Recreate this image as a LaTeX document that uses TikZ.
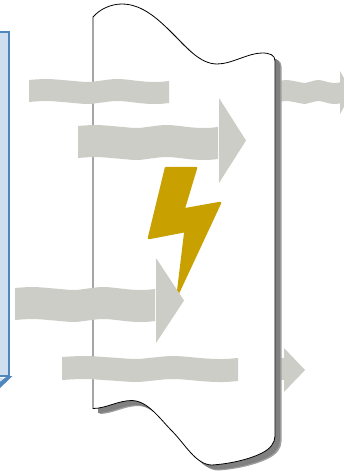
\documentclass[tikz,border=0pt]{standalone}
\definecolor{bandgray}{HTML}{CCCDC6}
\definecolor{boltgold}{HTML}{C8A000}
\definecolor{boxblue}{HTML}{4F86BE}
\definecolor{boxfill}{HTML}{CFDFEF}
\tikzset{
  x=1pt,y=-1pt,
  bandshape/.style={fill=bandgray,draw=none},
  boltshape/.style={fill=boltgold,draw=boltgold,line width=2.5pt,line join=round},
  bodyline/.style={draw=black,fill=white,line width=0.8pt,line join=round},
  shadowdark/.style={fill=black!50,draw=none},
  shadowlight/.style={fill=black!38,draw=none},
  boxframe/.style={draw=boxblue,fill=boxfill,line width=2pt}
}
% wavy band: x0, width, y of top edge, height
\newcommand{\wavyband}[4]{%
  \path[bandshape] plot[smooth,tension=0.6] coordinates {
    (#1,#3+1) ({#1+0.13*#2},#3) ({#1+0.28*#2},#3+1.5) ({#1+0.42*#2},#3+3)
    ({#1+0.52*#2},#3+1.5) ({#1+0.64*#2},#3) ({#1+0.82*#2},#3+2.5) ({#1+0.92*#2},#3+3) (#1+#2,#3+2)}
    -- plot[smooth,tension=0.6] coordinates {
    (#1+#2,#3+#4-1) ({#1+0.92*#2},#3+#4) ({#1+0.82*#2},#3+#4-0.5) ({#1+0.64*#2},#3+#4-3)
    ({#1+0.52*#2},#3+#4-1.5) ({#1+0.42*#2},#3+#4) ({#1+0.28*#2},#3+#4-1.5) ({#1+0.13*#2},#3+#4-3) (#1,#3+#4-2)}
    -- cycle;}
% body outline, shifted
\newcommand{\bodypath}{
  (93,17) .. controls (100,9) and (111,4) .. (122,4)
  .. controls (143,4) and (160,21) .. (172,33)
  .. controls (186,47) and (200,64) .. (217,64)
  .. controls (232,64) and (248,53) .. (262,53)
  .. controls (270,53) and (275,55) .. (275,61)
  -- (275,436)
  .. controls (275,443) and (270,449) .. (262,453)
  .. controls (248,460) and (228,464) .. (212,465)
  .. controls (196,465) and (185,444) .. (172,431)
  .. controls (160,419) and (148,401) .. (132,400.5)
  .. controls (118,400.5) and (106,408.5) .. (93,408.5)
  -- cycle}
\begin{document}
\begin{tikzpicture}
\useasboundingbox (0,0) rectangle (344,472);
% left box
\draw[boxframe] (-6,32) -- (8.5,32) -- (8.5,376) -- (-6,376) -- cycle;
\fill[boxblue] (12.5,376) -- (7.5,376) -- (-3,384) -- (-3,391) -- cycle;
\fill[boxfill] (0,378) -- (4,378) -- (0,381) -- cycle;
% pieces behind the body
\wavyband{279}{62}{80}{24}
\path[bandshape] (340,71) -- (352,92.5) -- (340,114) -- cycle;
\path[bandshape] (279,358) rectangle (284,380);
\path[bandshape] (284,348) -- (305,370) -- (284,392) -- cycle;
% body
\path[shadowlight,xshift=6.5pt,yshift=-5.5pt] \bodypath;
\path[shadowdark,xshift=5pt,yshift=-4.5pt] \bodypath;
\path[bodyline] \bodypath;
% bolt
\path[boltshape] (166,168) -- (196,168) -- (183.5,209.5) -- (220,203) -- (178,293) -- (185.5,231) -- (149,238) -- cycle;
% bands in front
\wavyband{29}{140}{79}{25}
\wavyband{78}{140}{125}{35}
\path[bandshape] (219,98) -- (246,140.5) -- (219,183) -- cycle;
\wavyband{15}{140}{287}{35}
\path[bandshape] (156,258) -- (184,300.5) -- (156,343) -- cycle;
\wavyband{62}{176}{356}{26}
\end{tikzpicture}
\end{document}
